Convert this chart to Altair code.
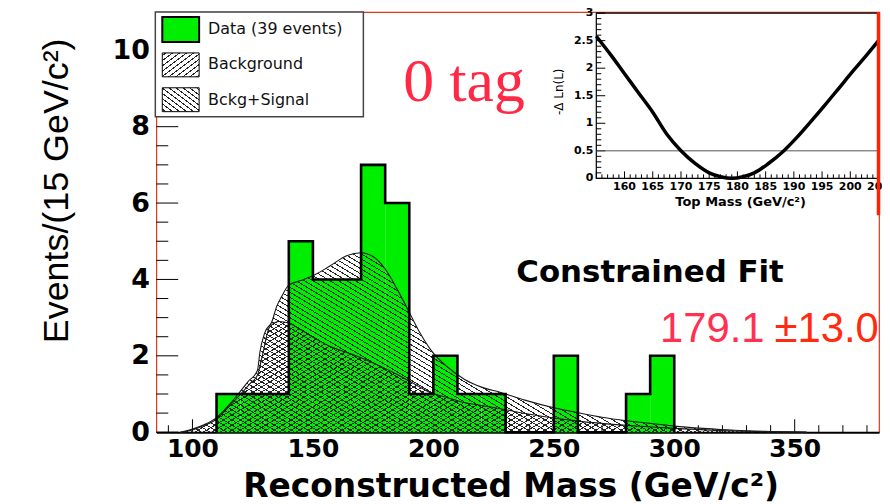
import altair as alt
import pandas as pd

# ---------------- data ----------------
# main histogram, 10 GeV/c^2 bins
bin_lo = [110, 120, 130, 140, 150, 160, 170, 180, 190, 200, 210, 220, 230, 240, 250, 260, 270, 280, 290]
counts = [1, 1, 1, 5, 4, 4, 7, 6, 1, 2, 1, 1, 0, 0, 2, 0, 0, 1, 2]
bin_width = 10

# Bckg+Signal curve
tot_m = [95, 100, 105, 110, 115, 119, 123, 127, 128, 130, 133, 135, 137, 140, 145, 151, 157, 164, 170, 176,
         181, 185, 189.5, 194, 199, 206, 213, 220, 228, 238, 250, 260, 270, 280, 290, 300, 312, 325, 340, 355]
tot_v = [0, 0.08, 0.2, 0.38, 0.7, 1.0, 1.32, 1.62, 2.1, 2.6, 2.9, 3.3, 3.55, 3.85, 3.97, 4.13, 4.35, 4.62, 4.7, 4.55,
         4.18, 3.74, 3.2, 2.65, 2.15, 1.7, 1.38, 1.18, 1.04, 0.84, 0.64, 0.51, 0.39, 0.3, 0.23, 0.16, 0.1, 0.05, 0.02, 0]

# Background curve
bkg_m = [95, 100, 105, 110, 115, 120, 124, 127, 129, 132, 136, 140, 145, 151, 157, 165, 172, 178, 185, 190,
         199, 206, 213, 220, 229, 240, 250, 260, 280, 300, 325, 355]
bkg_v = [0, 0.06, 0.18, 0.34, 0.66, 1.0, 1.28, 1.5, 2.0, 2.75, 2.9, 2.86, 2.68, 2.45, 2.25, 2.07, 1.9, 1.73, 1.51, 1.34,
         1.03, 0.9, 0.77, 0.7, 0.6, 0.47, 0.37, 0.29, 0.18, 0.1, 0.03, 0]

# inset: -dLn(L) vs top mass
lnl_m = [155, 157.5, 160, 162.5, 165, 167.5, 170, 172.5, 175, 177, 179, 181, 183, 185.5, 188, 190.5, 193, 195.5,
         198, 200.5, 203, 205]
lnl_v = [2.58, 2.25, 1.9, 1.55, 1.2, 0.8, 0.5, 0.27, 0.1, 0.03, 0.0, 0.03, 0.1, 0.27, 0.48, 0.74, 1.03, 1.33,
         1.64, 1.95, 2.25, 2.5]

# axis ticks / labels
x_major = [100, 150, 200, 250, 300, 350]
x_minor = [90, 110, 120, 130, 140, 160, 170, 180, 190, 210, 220, 230, 240, 260, 270, 280, 290,
           310, 320, 330, 340, 360, 370, 380]
y_major = [0, 2, 4, 6, 8, 10]
y_minor = [0.5, 1, 1.5, 2.5, 3, 3.5, 4.5, 5, 5.5, 6.5, 7, 7.5, 8.5, 9, 9.5, 10.5]

ins_x_major = [155, 160, 165, 170, 175, 180, 185, 190, 195, 200, 205]
ins_x_minor = [m for m in range(156, 205) if m % 5 != 0]
ins_x_labels = [160, 165, 170, 175, 180, 185, 190, 195, 200, 205]
ins_y_major = [0, 0.5, 1, 1.5, 2, 2.5, 3]
ins_y_labels = ["0", "0.5", "1", "1.5", "2", "2.5", "3"]
ins_y_minor = [round(i * 0.1, 1) for i in range(1, 30) if i % 5 != 0]

# ---------------- layout ----------------
W, H = 726, 422
XD = [85, 385]
YD = [0, 11]
PXX = W / (XD[1] - XD[0])
PXY = H / (YD[1] - YD[0])
GREEN = "#00ee00"
SANS = "DejaVu Sans"


def xsc():
    return alt.Scale(domain=XD, nice=False, zero=False)


def ysc():
    return alt.Scale(domain=YD, nice=False, zero=False)


def hatch(bw, bh, k, step_x, diag, line="#262626", bg="rgba(255,255,255,0)", lw=1.0):
    span = k * bw + bh
    a = span / (k * k * bw * bw + bh * bh)
    step = k * step_x
    half = lw * (1 + k * k) ** 0.5 / 2 / span
    stops = []
    i = 0
    while True:
        c = (i + 0.5) * step / span
        lo, hi = max(0.0, c - half), min(1.0, c + half)
        if lo >= 1:
            break
        stops += [{"offset": round(lo, 5), "color": bg}, {"offset": round(lo, 5), "color": line},
                  {"offset": round(hi, 5), "color": line}, {"offset": round(hi, 5), "color": bg}]
        i += 1
    if diag == "/":
        x1, y1, x2, y2 = 0, 0, a * k * bw, a * bh
    else:
        x1, y1, x2, y2 = 0, 1, a * k * bw, 1 - a * bh
    return {"gradient": "linear", "x1": x1, "y1": y1, "x2": round(x2, 5), "y2": round(y2, 5), "stops": stops}


tot_df = pd.DataFrame({"m": tot_m, "v": tot_v})
bkg_df = pd.DataFrame({"m": bkg_m, "v": bkg_v})
grad_tot = hatch((max(tot_m) - min(tot_m)) * PXX, max(tot_v) * PXY, 0.6, 8.5, "\\")
grad_bkg = hatch((max(bkg_m) - min(bkg_m)) * PXX, max(bkg_v) * PXY, 0.6, 8.5, "/")

hist = pd.DataFrame({"lo": bin_lo, "hi": [b + bin_width for b in bin_lo], "n": counts, "z": 0})
out_e = [bin_lo[0]] + bin_lo + [bin_lo[-1] + bin_width]
out_n = [0] + counts + [0]
outline = pd.DataFrame({"e": out_e, "n": out_n, "i": list(range(len(out_e)))})

one = pd.DataFrame({"a": [0]})

x_axis = alt.Axis(values=x_major, format="d", ticks=False, grid=False, domain=True, domainColor="black",
                  domainWidth=2, labelFont=SANS, labelFontWeight="bold", labelFontSize=25, labelPadding=4,
                  labelColor="black", labelFlush=False, labelOverlap=False, orient="bottom",
                  title="Reconstructed Mass (GeV/c²)", titleFont=SANS, titleFontWeight="bold",
                  titleFontSize=33, titleColor="black", titleX=356, titleY=65, titleAlign="center",
                  titleBaseline="alphabetic")
y_axis = alt.Axis(values=y_major, format="d", ticks=False, grid=False, domain=False, orient="left",
                  labelFont=SANS, labelFontWeight="bold", labelFontSize=27, labelPadding=7,
                  labelColor="black", labelFlush=False, labelOverlap=False,
                  title="Events/(15 GeV/c²)", titleFont="Liberation Sans",
                  titleFontWeight="normal", titleFontSize=36, titleColor="black", titleAngle=270,
                  titleX=-89, titleY=179, titleAlign="center", titleBaseline="alphabetic")


def xq(f, sc=None):
    return alt.X(f, scale=sc if sc is not None else xsc(), axis=None)


def yq(f, sc=None):
    return alt.Y(f, scale=sc if sc is not None else ysc(), axis=None)


# ---- main ticks (inside) ----
xt_major = alt.Chart(pd.DataFrame({"t": x_major})).mark_rule(color="black", strokeWidth=1).encode(
    x=xq("t:Q"), y=alt.value(H), y2=alt.value(H - 13))
xt_minor = alt.Chart(pd.DataFrame({"t": x_minor})).mark_rule(color="black", strokeWidth=1).encode(
    x=xq("t:Q"), y=alt.value(H), y2=alt.value(H - 7))
yt_major = alt.Chart(pd.DataFrame({"t": y_major})).mark_rule(color="black", strokeWidth=1).encode(
    y=yq("t:Q"), x=alt.value(0), x2=alt.value(22))
yt_minor = alt.Chart(pd.DataFrame({"t": y_minor})).mark_rule(color="black", strokeWidth=1).encode(
    y=yq("t:Q"), x=alt.value(0), x2=alt.value(12))

bars = alt.Chart(hist).mark_rect(color=GREEN, strokeWidth=0).encode(
    x=alt.X("lo:Q", scale=xsc(), axis=x_axis), x2="hi:Q",
    y=alt.Y("n:Q", scale=ysc(), axis=y_axis), y2="z:Q")

area_tot = alt.Chart(tot_df).mark_area(fill=grad_tot, opacity=1, interpolate="monotone").encode(
    x=xq("m:Q"), y=yq("v:Q"))
area_bkg = alt.Chart(bkg_df).mark_area(fill=grad_bkg, opacity=1, interpolate="monotone").encode(
    x=xq("m:Q"), y=yq("v:Q"))
line_tot = alt.Chart(tot_df).mark_line(color="#1a1a1a", strokeWidth=1.1, interpolate="monotone").encode(
    x=xq("m:Q"), y=yq("v:Q"))
line_bkg = alt.Chart(bkg_df).mark_line(color="#1a1a1a", strokeWidth=1.1, interpolate="monotone").encode(
    x=xq("m:Q"), y=yq("v:Q"))
out_line = alt.Chart(outline).mark_line(color="black", strokeWidth=2.6, interpolate="step-after",
                                        strokeJoin="miter").encode(
    x=xq("e:Q"), y=yq("n:Q"), order="i:Q")

# ---- legend ----
leg_box = alt.Chart(one).mark_rect(fill="white", stroke="#444444", strokeWidth=1.5).encode(
    x=alt.value(-1), x2=alt.value(208), y=alt.value(0), y2=alt.value(105))
sw_data = alt.Chart(one).mark_rect(fill=GREEN, stroke="black", strokeWidth=2).encode(
    x=alt.value(6), x2=alt.value(43), y=alt.value(5), y2=alt.value(30))
sw_bkg = alt.Chart(one).mark_rect(fill=hatch(37, 24, 0.75, 7, "/", bg="white"), stroke="black",
                                  strokeWidth=1).encode(
    x=alt.value(6), x2=alt.value(43), y=alt.value(41), y2=alt.value(65))
sw_tot = alt.Chart(one).mark_rect(fill=hatch(37, 24, 0.75, 7, "\\", bg="white"), stroke="black",
                                  strokeWidth=1).encode(
    x=alt.value(6), x2=alt.value(43), y=alt.value(76), y2=alt.value(100))


def label(txt, x, y, **kw):
    return alt.Chart(one).mark_text(**kw).encode(x=alt.value(x), y=alt.value(y), text=alt.value(txt))


leg_kw = dict(align="left", baseline="middle", font=SANS, fontSize=16, color="#111111")
lt1 = label("Data (39 events)", 52, 17, **leg_kw)
lt2 = label("Background", 52, 52, **leg_kw)
lt3 = label("Bckg+Signal", 52, 88, **leg_kw)

tag = label("0 tag", 248, 89, align="left", baseline="alphabetic", font="Liberation Serif", fontSize=62,
            color="#ff2845")
cfit = label("Constrained Fit", 496, 271, align="center", baseline="alphabetic", font=SANS, fontSize=31,
             fontWeight="bold", color="black")
mval = label("179.1", 506, 331, align="left", baseline="alphabetic", font="Liberation Sans", fontSize=42,
             color="#ff3050")
merr = label("±13.0", 621, 331, align="left", baseline="alphabetic", font="Liberation Sans", fontSize=42,
             color="#ff2a10")

# ---------------- inset ----------------
IB = 167
IL = 442


def isx():
    return alt.Scale(domain=[155, 205], range=[IL, 725.5], nice=False, zero=False)


def isy():
    return alt.Scale(domain=[0, 3], range=[IB, 1], nice=False, zero=False)


ins_box = alt.Chart(pd.DataFrame({"x1": [155], "x2": [205], "y1": [0], "y2": [3]})).mark_rect(
    fill="white", stroke="black", strokeWidth=1.2).encode(
    x=xq("x1:Q", isx()), x2="x2:Q", y=yq("y1:Q", isy()), y2="y2:Q")
ixt_maj = alt.Chart(pd.DataFrame({"t": ins_x_major})).mark_rule(color="black", strokeWidth=1).encode(
    x=xq("t:Q", isx()), y=alt.value(IB), y2=alt.value(IB - 7))
ixt_min = alt.Chart(pd.DataFrame({"t": ins_x_minor})).mark_rule(color="black", strokeWidth=1).encode(
    x=xq("t:Q", isx()), y=alt.value(IB), y2=alt.value(IB - 4))
iyt_maj = alt.Chart(pd.DataFrame({"t": ins_y_major})).mark_rule(color="black", strokeWidth=1).encode(
    y=yq("t:Q", isy()), x=alt.value(IL), x2=alt.value(IL + 9))
iyt_min = alt.Chart(pd.DataFrame({"t": ins_y_minor})).mark_rule(color="black", strokeWidth=1).encode(
    y=yq("t:Q", isy()), x=alt.value(IL), x2=alt.value(IL + 5))
half_line = alt.Chart(pd.DataFrame({"a": [155], "b": [205], "v": [0.5]})).mark_rule(
    color="#555555", strokeWidth=1).encode(x=xq("a:Q", isx()), x2="b:Q", y=yq("v:Q", isy()))
lnl_line = alt.Chart(pd.DataFrame({"m": lnl_m, "v": lnl_v})).mark_line(
    color="black", strokeWidth=3.5, interpolate="monotone").encode(x=xq("m:Q", isx()), y=yq("v:Q", isy()))
ixl = alt.Chart(pd.DataFrame({"t": ins_x_labels, "s": [str(v) for v in ins_x_labels]})).mark_text(
    font=SANS, fontWeight="bold", fontSize=11, align="center", baseline="middle", color="black").encode(
    x=xq("t:Q", isx()), y=alt.value(IB + 9), text="s:N")
iyl = alt.Chart(pd.DataFrame({"t": ins_y_major, "s": ins_y_labels})).mark_text(
    font=SANS, fontWeight="bold", fontSize=11, align="right", baseline="middle", color="black").encode(
    y=yq("t:Q", isy()), x=alt.value(IL - 3), text="s:N")
ixtitle = label("Top Mass (GeV/c²)", 587, 191, align="center", baseline="middle", font=SANS,
                fontWeight="bold", fontSize=13, color="black")
iytitle = label("-Δ Ln(L)", 405, 80, align="center", baseline="middle", font=SANS, fontSize=12,
                angle=270, color="black")
red_edge = alt.Chart(pd.DataFrame({"t": [205]})).mark_rule(color="#ff2200", strokeWidth=3.5).encode(
    x=xq("t:Q", isx()), y=alt.value(0), y2=alt.value(204))

chart = alt.layer(
    xt_major, xt_minor, yt_major, yt_minor, bars, area_tot, area_bkg, line_tot, line_bkg,
    out_line, leg_box, sw_data, sw_bkg, sw_tot, lt1, lt2, lt3, tag, cfit, mval, merr,
    ins_box, ixt_maj, ixt_min, iyt_maj, iyt_min, half_line, lnl_line, ixl, iyl,
    ixtitle, iytitle, red_edge
).resolve_scale(x="independent", y="independent").properties(
    width=W, height=H,
    padding={"left": 149, "top": 3, "right": 3, "bottom": 71},
    autosize=alt.AutoSizeParams(type="none"),
    background="white",
).configure_view(stroke="#d8381c", strokeWidth=1.2)

chart.save("out.html", embed_options={"renderer": "svg", "actions": False})
